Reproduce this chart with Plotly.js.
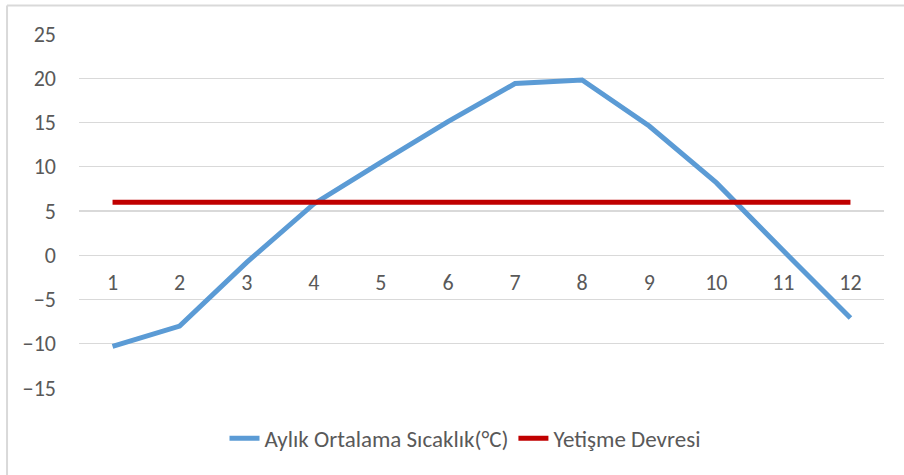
<!DOCTYPE html>
<html>
<head>
<meta charset="utf-8">
<script src="https://cdn.plot.ly/plotly-3.0.1.min.js"></script>
<style>
html,body{margin:0;padding:0;background:#fff;}
#chart{width:904px;height:475px;}
</style>
</head>
<body>
<div id="chart"></div>
<script>
const months = [1, 2, 3, 4, 5, 6, 7, 8, 9, 10, 11, 12];
const monthLabels = ["1", "2", "3", "4", "5", "6", "7", "8", "9", "10", "11", "12"];
const avgTemp = [-10.3, -8.0, -0.8, 5.8, 10.5, 15.1, 19.4, 19.8, 14.6, 8.2, 0.5, -7.1];
const growingPeriod = [6, 6, 6, 6, 6, 6, 6, 6, 6, 6, 6, 6];
const seriesNames = ["Aylık Ortalama Sıcaklık(°C)", "Yetişme Devresi"];
const yTicks = [-15, -10, -5, 0, 5, 10, 15, 20, 25];

const FONT = "Carlito, Lato, 'Open Sans', sans-serif";
const TXT = "#595959";

const traces = [
  {x: months, y: avgTemp, name: seriesNames[0], type: "scatter", mode: "lines",
   line: {color: "#5B9BD5", width: 5}},
  {x: months, y: growingPeriod, name: seriesNames[1], type: "scatter", mode: "lines",
   line: {color: "#C00000", width: 5}}
];

const layout = {
  width: 904, height: 475,
  margin: {l: 79, r: 20, t: 34, b: 87},
  paper_bgcolor: "#fff", plot_bgcolor: "#fff",
  font: {family: FONT, size: 22, color: TXT},
  showlegend: true,
  legend: {orientation: "h", x: 0.4795, xanchor: "center", y: -0.142, yanchor: "middle",
           font: {family: FONT, size: 23, color: TXT}, itemwidth: 30, traceorder: "normal"},
  xaxis: {range: [0.5, 12.5], tickvals: months, ticktext: monthLabels,
          anchor: "free", position: 0.375, showgrid: false, zeroline: false, showline: false,
          ticks: "", ticklabelstandoff: 12, tickfont: {family: FONT, size: 22, color: TXT}},
  yaxis: {range: [-15, 25], tickvals: yTicks, showgrid: true, gridcolor: "#d9d9d9", gridwidth: 1.3,
          zeroline: false, showline: false, ticks: "", ticklabelstandoff: 22,
          tickfont: {family: FONT, size: 22, color: TXT}},
  shapes: [
    {type: "line", xref: "paper", yref: "paper", x0: -0.0894, x1: 1.05, y0: 1.0806, y1: 1.0806,
     line: {color: "#d9d9d9", width: 2}},
    {type: "line", xref: "paper", yref: "paper", x0: -0.0894, x1: -0.0894, y0: 1.0806, y1: -0.28,
     line: {color: "#d9d9d9", width: 2}}
  ]
};

Plotly.newPlot("chart", traces, layout, {displayModeBar: false, staticPlot: true});
</script>
</body>
</html>
